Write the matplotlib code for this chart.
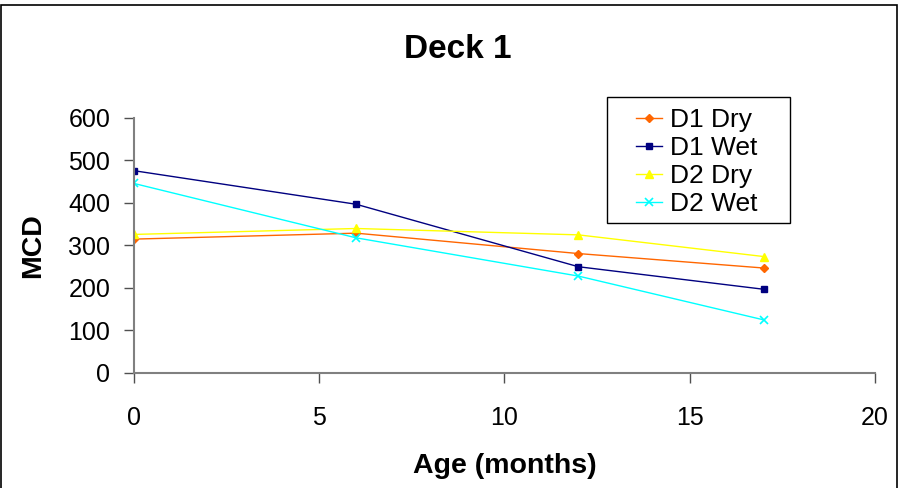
import numpy as np
import matplotlib
matplotlib.use("Agg")
import matplotlib.pyplot as plt
from matplotlib.patches import Rectangle

# data
age = [0, 6, 12, 17]
d1_dry = [315, 329, 281, 247]
d1_wet = [476, 397, 250, 197]
d2_dry = [326, 340, 325, 274]
d2_wet = [446, 318, 228, 125]

plt.rcParams['font.family'] = ['Liberation Sans', 'DejaVu Sans']

fig = plt.figure(figsize=(8.99, 4.88), dpi=100)
ax = fig.add_axes([0.149, 0.2357, 0.824, 0.5225])

ax.plot(age, d1_dry, color='#FF6600', marker='D', markersize=4, lw=1, label='D1 Dry')
ax.plot(age, d1_wet, color='#000080', marker='s', markersize=5, lw=1, label='D1 Wet')
ax.plot(age, d2_dry, color='#FFFF00', marker='^', markersize=6, lw=1, label='D2 Dry')
ax.plot(age, d2_wet, color='#00FFFF', marker='x', markersize=6, mew=1.2, lw=1, label='D2 Wet')

ax.set_xlim(0, 20)
ax.set_ylim(0, 600)
ax.set_xticks([0, 5, 10, 15, 20])
ax.set_yticks(range(0, 700, 100))
for s in ['top', 'right']:
    ax.spines[s].set_visible(False)
for s in ['left', 'bottom']:
    ax.spines[s].set_color('#808080')
    ax.spines[s].set_linewidth(1.5)
ax.tick_params(axis='both', labelsize=18, color='#505050', length=7, width=1)
ax.tick_params(axis='x', pad=17)
ax.tick_params(axis='y', pad=10)

ax.set_xlabel('Age (months)', fontsize=20.5, fontweight='bold', va='center')
ax.xaxis.set_label_coords(0.5, -0.365)
ax.set_ylabel('MCD', fontsize=20.5, fontweight='bold', va='center')
ax.yaxis.set_label_coords(-0.136, 0.5)

fig.text(0.509, 0.898, 'Deck 1', ha='center', va='center',
         fontsize=24, fontweight='bold')

leg = ax.legend(loc='upper left', bbox_to_anchor=(636 / 899, 1 - 108 / 488),
                bbox_transform=fig.transFigure, fontsize=19, frameon=False,
                borderpad=0, borderaxespad=0, labelspacing=0.15,
                handlelength=1.0, handletextpad=0.3)
fig.patches.append(Rectangle((607 / 899, 1 - 223 / 488), 183 / 899, 126 / 488,
                             transform=fig.transFigure, fill=False,
                             edgecolor='black', lw=1))

fig.patches.append(Rectangle((0.001, -0.01), 0.997, 1.0, transform=fig.transFigure,
                             fill=False, edgecolor='black', lw=1.2))

fig.savefig('out.png', dpi=100)
